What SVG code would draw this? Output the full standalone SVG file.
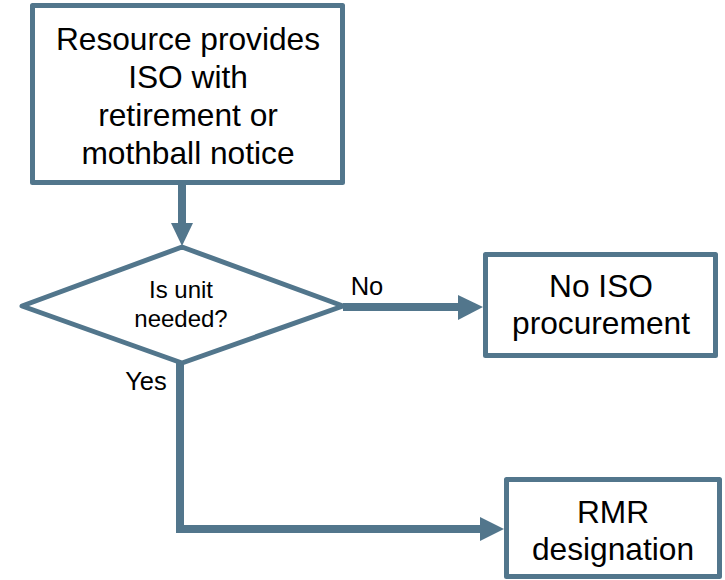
<svg xmlns="http://www.w3.org/2000/svg" width="725" height="580" viewBox="0 0 725 580">
  <style>
    .box { fill: #ffffff; stroke: #52768c; stroke-width: 5; stroke-linejoin: round; }
    .link { fill: none; stroke: #52768c; stroke-width: 8; }
    .head { fill: #52768c; }
    text { font-family: "Liberation Sans", Arial, sans-serif; fill: #000000; text-anchor: middle; }
    .big { font-size: 31.7px; }
    .mid { font-size: 25.5px; }
    .small { font-size: 24px; }
  </style>
  <rect width="725" height="580" fill="#ffffff"/>

  <!-- connectors -->
  <g id="connectors">
    <line class="link" x1="182" y1="184" x2="182" y2="224"/>
    <polygon class="head" points="171,223 193,223 182,246"/>

    <line class="link" x1="343" y1="307" x2="460" y2="307"/>
    <polygon class="head" points="458,295 458,320 483,307"/>

    <polyline class="link" points="180,362 180,529 482,529"/>
    <polygon class="head" points="480,517 480,541 504,529"/>

    <text class="mid" x="367" y="295">No</text>
    <text class="mid" x="146" y="390">Yes</text>
  </g>

  <g id="notice">
    <rect class="box" x="32.5" y="5.5" width="310" height="177"/>
    <text class="big" x="188" y="50">Resource provides</text>
    <text class="big" x="188" y="88">ISO with</text>
    <text class="big" x="188" y="126">retirement or</text>
    <text class="big" x="188" y="164">mothball notice</text>
  </g>

  <g id="decision">
    <polygon class="box" points="182,247 343,306 182,363 22,306"/>
    <text class="small" x="181" y="298">Is unit</text>
    <text class="small" x="181" y="327">needed?</text>
  </g>

  <g id="no-procurement">
    <rect class="box" x="485.5" y="254.5" width="230" height="101"/>
    <text class="big" x="601" y="297">No ISO</text>
    <text class="big" x="601" y="334">procurement</text>
  </g>

  <g id="rmr">
    <rect class="box" x="506.5" y="479.5" width="213" height="97"/>
    <text class="big" x="613" y="523">RMR</text>
    <text class="big" x="613" y="560">designation</text>
  </g>
</svg>
